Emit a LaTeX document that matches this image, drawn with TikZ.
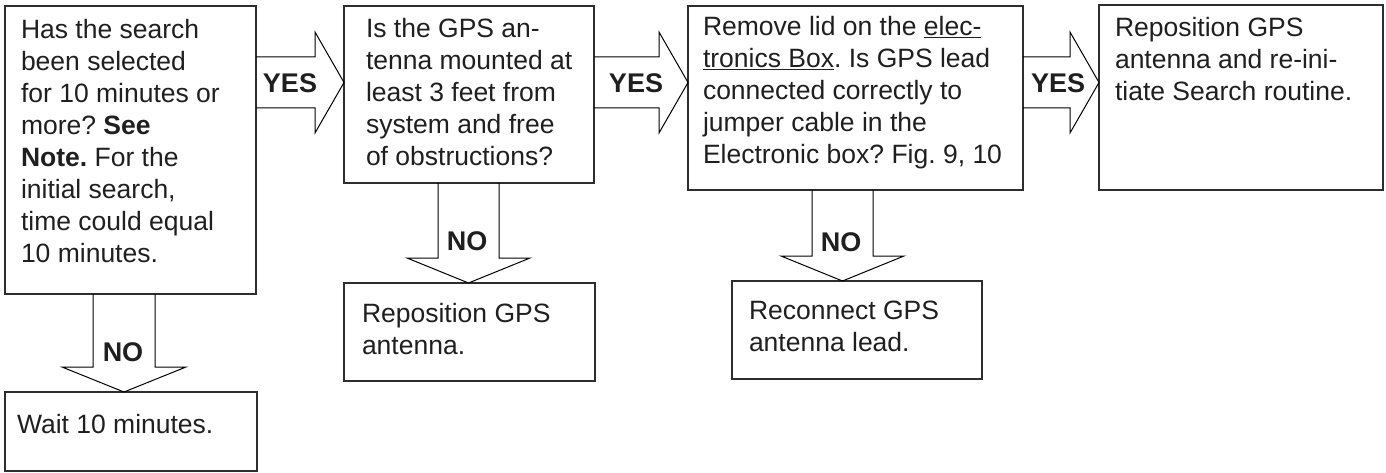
\documentclass[tikz,border=0pt]{standalone}
\usepackage{fontspec}
\setmainfont{Liberation Sans}
\usetikzlibrary{calc}
\definecolor{boxgray}{gray}{0.18}
\definecolor{txtgray}{gray}{0.12}
\frenchspacing
\newcommand\boxlines[1]{\parbox[t]{340pt}{\raggedright\frenchspacing #1}}
\newcommand\yesarrow[2]{%
  \draw[blockarrow] (#1.east|-0,415) -- ($(#2.west|-0,415)+(-29,0)$) -- ($(#2.west|-0,440)+(-29,0)$)
    -- (#2.west|-0,389.5) -- ($(#2.west|-0,339)+(-29,0)$) -- ($(#2.west|-0,364)+(-29,0)$) -- (#1.east|-0,364);}
\newcommand\noarrow[5]{%
  \draw[blockarrow] ($(#1.south-|#3,0)+(-#4,0)$) -- ($(#2.north-|#3,0)+(-#4,25)$) -- ($(#2.north-|#3,0)+(-#5,25)$)
    -- (#2.north-|#3,0) -- ($(#2.north-|#3,0)+(#5,25)$) -- ($(#2.north-|#3,0)+(#4,25)$) -- ($(#1.south-|#3,0)+(#4,0)$);}
\begin{document}
\begin{tikzpicture}[x=1pt,y=1pt,
  stepbox/.style={draw=boxgray, line width=2.3pt, rectangle, inner sep=0pt, outer sep=0pt, anchor=north west},
  txt/.style={anchor=base west, inner sep=0pt, outer sep=0pt, text=txtgray, font=\fontsize{26.5}{32}\selectfont},
  blockarrow/.style={draw=black, line width=1pt, line join=miter},
  lbl/.style={inner sep=0pt, outer sep=0pt, text=txtgray, font=\bfseries\fontsize{27}{32}\selectfont}]
\useasboundingbox (0,0) rectangle (1386,472);
% boxes
\node[stepbox, minimum width=251pt, minimum height=288pt] (A) at (5,466) {};
\node[stepbox, minimum width=250pt, minimum height=177pt] (B) at (344,466) {};
\node[stepbox, minimum width=335pt, minimum height=184pt] (C) at (688,466) {};
\node[stepbox, minimum width=284pt, minimum height=185pt] (D) at (1099,467) {};
\node[stepbox, minimum width=252pt, minimum height=79pt] (W) at (5,80) {};
\node[stepbox, minimum width=251pt, minimum height=98pt] (R) at (344,189) {};
\node[stepbox, minimum width=250pt, minimum height=98pt] (N) at (732,191) {};
% texts
\node[txt] (At) at (21,433) {\boxlines{Has the search\\ been selected\\ for 10 minutes or\\ more? \textbf{See}\\ \textbf{Note.} For the\\ initial search,\\ time could equal\\ 10 minutes.}};
\node[txt] (Bt) at (366,434) {\boxlines{Is the GPS an-\\ tenna mounted at\\ least 3 feet from\\ system and free\\ of obstructions?}};
\node[txt] (Ct) at (703,436) {\boxlines{Remove lid on the \underline{elec-}\\ \underline{tronics Box}. Is GPS lead\\ connected correctly to\\ jumper cable in the\\ Electronic box? Fig. 9, 10}};
\node[txt] (Dt) at (1115,435) {\boxlines{Reposition GPS\\ antenna and re-ini-\\ tiate Search routine.}};
\node[txt] (Wt) at (17,39) {\boxlines{Wait 10 minutes.}};
\node[txt] (Rt) at (362,150) {\boxlines{Reposition GPS\\ antenna.}};
\node[txt] (Nt) at (749,153) {\boxlines{Reconnect GPS\\ antenna lead.}};
% arrows
\yesarrow{A}{B}
\yesarrow{B}{C}
\yesarrow{C}{D}
\noarrow{A}{W}{124}{31}{62}
\noarrow{B}{R}{468.5}{30.5}{61.5}
\noarrow{C}{N}{842.5}{30.5}{61.5}
% labels
\node[lbl] (y1) at (290,389) {YES};
\node[lbl] (y2) at (636,389) {YES};
\node[lbl] (y3) at (1058,389) {YES};
\node[lbl] (n1) at (123,120) {NO};
\node[lbl] (n2) at (467,231) {NO};
\node[lbl] (n3) at (841,230) {NO};
\end{tikzpicture}
\end{document}
